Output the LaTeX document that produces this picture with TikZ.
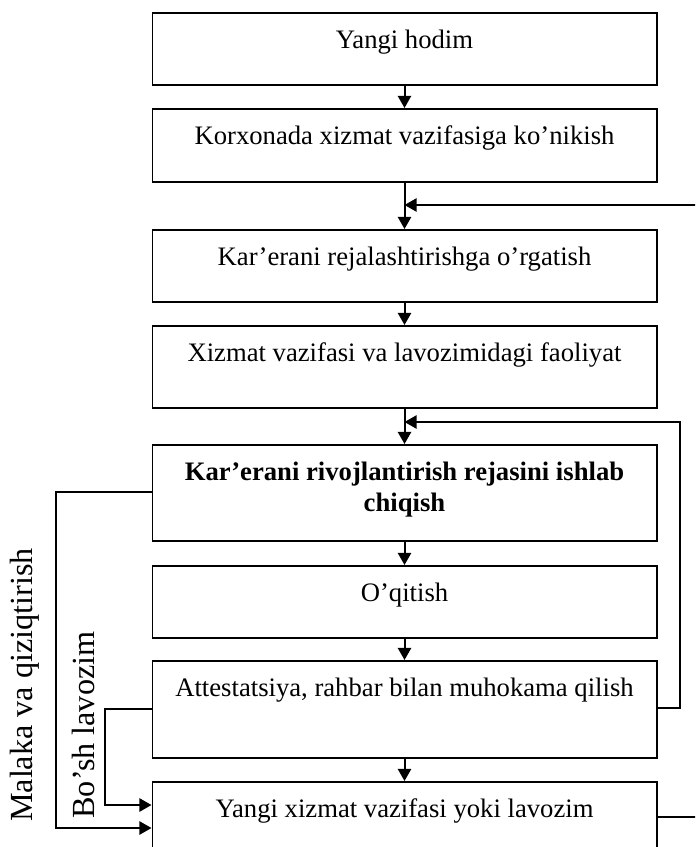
\documentclass[tikz,border=0pt]{standalone}
\usepackage{fontspec}
\setmainfont{Liberation Serif}
\usetikzlibrary{arrows.meta}
\tikzset{>={Triangle[length=5.5pt,width=6pt]},
  blk/.style={draw,line width=0.7pt,anchor=north,minimum width=227pt,text width=213pt,
    inner xsep=7pt,inner ysep=0pt,align=flush center,text height=16.2pt,
    font=\fontsize{12}{13.8}\selectfont},
  flow/.style={draw,line width=0.9pt,->},
  side/.style={rotate=90,inner sep=0pt,font=\fontsize{14.5}{16}\selectfont}}

\begin{document}
\begin{tikzpicture}[x=0.45pt,y=-0.45pt]
  \clip (0,0) rectangle (695,847);
  % steps
  \node[blk,text depth=16.2pt] (b1) at (404.5,12) {Yangi hodim};
  \node[blk,text depth=16.65pt] (b2) at (404.5,108) {Korxonada xizmat vazifasiga ko’nikish};
  \node[blk,text depth=16.2pt] (b3) at (404.5,229) {Kar’erani rejalashtirishga o’rgatish};
  \node[blk,text depth=20.7pt] (b4) at (404.5,325) {Xizmat vazifasi va lavozimidagi faoliyat};
  \node[blk,text depth=27pt,font=\fontsize{12}{13.8}\selectfont\bfseries] (b5) at (404.5,444) {Kar’erani rivojlantirish rejasini ishlab chiqish};
  \node[blk,text depth=16.2pt] (b6) at (404.5,565) {O’qitish};
  \node[blk,text depth=27.45pt] (b7) at (404.5,660) {Attestatsiya, rahbar bilan muhokama qilish};
  \node[blk,text depth=28.35pt] (b8) at (404.5,781) {Yangi xizmat vazifasi yoki lavozim};
  % side labels
  \node[side] (malaka) at (25,685) {Malaka va qiziqtirish};
  \node[side] (boshlav) at (83,725) {Bo’sh lavozim};
  % junctions and turning lines
  \coordinate (j1) at (404.5,205);
  \coordinate (j2) at (404.5,422);
  \coordinate (farR) at (715,0);
  \coordinate (nearR) at (680,0);
  \coordinate (farL) at (56,0);
  \coordinate (nearL) at (105,0);
  % main chain
  \draw[flow] (b1) -- (b2);
  \draw[flow] (b2) -- (b3);
  \draw[flow] (b3) -- (b4);
  \draw[flow] (b4) -- (b5);
  \draw[flow] (b5) -- (b6);
  \draw[flow] (b6) -- (b7);
  \draw[flow] (b7) -- (b8);
  % feedback on the right
  \draw[flow] (b8.east |- 0,817) -| (farR |- j1) -- (j1);
  \draw[flow] (b7.east |- 0,708) -| (nearR |- j2) -- (j2);
  % bypass on the left
  \draw[flow] (b5.west |- 0,492) -| (farL |- 0,828) -- (b8.west |- 0,828);
  \draw[flow] (b7.west |- 0,709) -| (nearL |- 0,805) -- (b8.west |- 0,805);
\end{tikzpicture}
\end{document}
